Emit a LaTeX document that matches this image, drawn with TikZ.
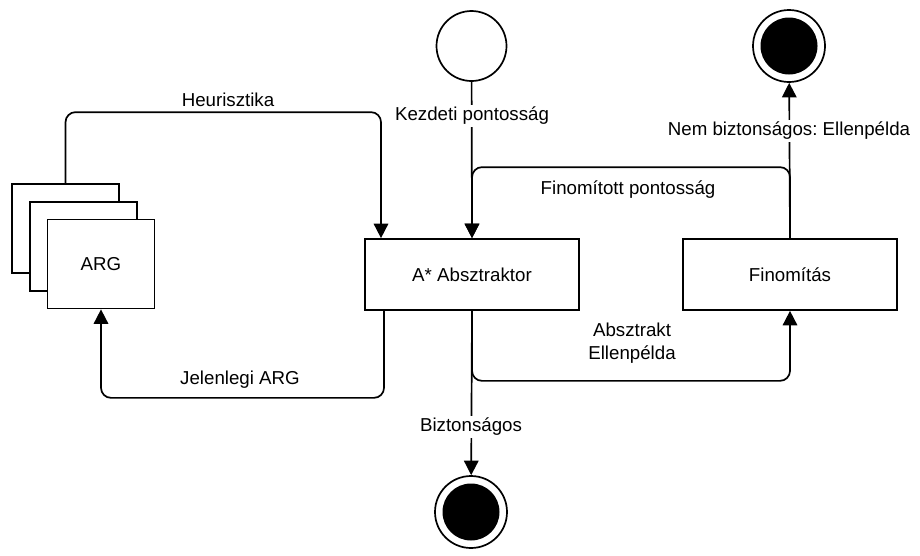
\documentclass[tikz,border=0pt]{standalone}
\usepackage{fontspec}
\setmainfont{Liberation Sans}
\usetikzlibrary{arrows.meta}
\begin{document}
\frenchspacing
\begin{tikzpicture}[x=1pt,y=-1pt,
  every node/.style={font=\fontsize{18.7}{23}\selectfont},
  box/.style={draw, line width=1.7pt, fill=white, minimum width=214pt, minimum height=71pt, inner sep=0pt},
  argbox/.style={draw, line width=1.7pt, fill=white, minimum width=107pt, minimum height=89pt, inner sep=0pt},
  state/.style={circle, draw, line width=1.7pt, fill=white, minimum size=70pt, inner sep=0pt},
  flow/.style={line width=1.7pt, rounded corners=10pt, -{Triangle[width=14.5pt,length=14.5pt]}},
  onlbl/.style={fill=white, inner sep=2pt}]
\useasboundingbox (0,0) rectangle (920,555);

% states
\node[state] (start) at (471.5,46) {};
\node[state, minimum size=72pt] (endtop) at (789,46) {};
\node[circle, fill=black, minimum size=57pt, inner sep=0pt] (endtopdot) at (endtop) {};
\node[state, minimum size=72pt] (endbot) at (471,512) {};
\node[circle, fill=black, minimum size=57pt, inner sep=0pt] (endbotdot) at (endbot) {};

% ARG stack
\node[argbox] (arg1) at (65.5,228.5) {};
\node[argbox] (arg2) at (83.5,246.5) {};
\node[argbox] (arg3) at (101,264) {ARG};

% process boxes
\node[box] (absz) at (472,274.5) {A* Absztraktor};
\node[box] (fin) at (790,274.5) {Finomítás};

% connectors
\draw[flow] (arg1.north) -- ++(0,-71) -| ([xshift=-91pt]absz.north);
\draw[flow] (start) -- (absz.north);
\draw[flow] (fin.north) -- ++(0,-71) -| (absz.north);
\draw[flow] (fin.north) -- (endtop);
\draw[flow] ([xshift=-88pt]absz.south) -- ++(0,87) -| (arg3.south);
\draw[flow] (absz.south) -- ++(0,70) -| (fin.south);
\draw[flow] (absz.south) -- (endbot);

% labels
\node (lheur) at (228,100) {Heurisztika};
\node[onlbl] (lkezd) at (472,116) {Kezdeti pontosság};
\node (lfinp) at (628,190) {Finomított pontosság};
\node[onlbl] (lnem) at (789,131) {Nem biztonságos: Ellenpélda};
\node (ljel) at (240,380) {Jelenlegi ARG};
\node[align=center] (labs) at (632,343.5) {Absztrakt\\Ellenpélda};
\node[onlbl] (lbizt) at (471,427) {Biztonságos};
\end{tikzpicture}
\end{document}
